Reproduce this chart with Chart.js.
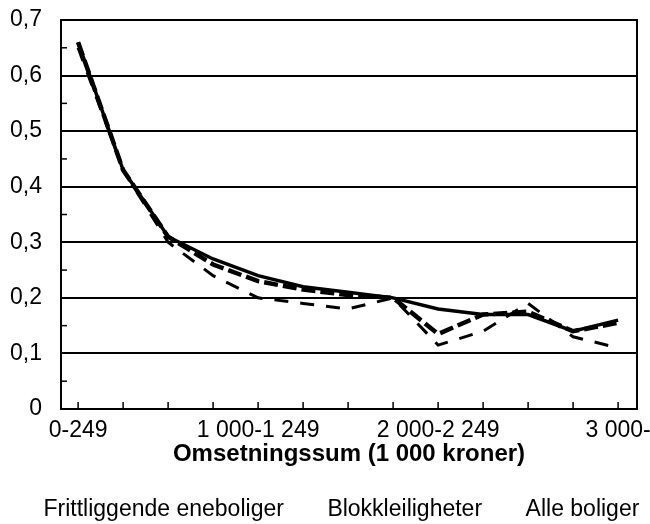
<!DOCTYPE html>
<html>
<head>
<meta charset="utf-8">
<script src="https://cdn.jsdelivr.net/npm/chart.js@4"></script>
<style>
  html, body { margin: 0; padding: 0; background: #fff; }
  #wrap { width: 650px; height: 524px; position: relative; }
</style>
</head>
<body>
<div id="wrap"><canvas id="chart"></canvas></div>
<script>
// categories (omsetningssum i 1 000 kroner)
const categories = ['0-249', '250-499', '500-749', '750-999', '1 000-1 249', '1 250-1 499',
  '1 500-1 749', '1 750-1 999', '2 000-2 249', '2 250-2 499', '2 500-2 749', '2 750-2 999', '3 000-'];
const shownLabels = [0, 4, 8, 12];

// series values
const frittliggende = [0.66, 0.43, 0.31, 0.27, 0.24, 0.22, 0.21, 0.20, 0.18, 0.17, 0.17, 0.14, 0.16];
const blokk = [0.65, 0.43, 0.30, 0.24, 0.20, 0.19, 0.18, 0.20, 0.115, 0.14, 0.19, 0.13, 0.11];
const alle = [0.66, 0.43, 0.31, 0.26, 0.23, 0.215, 0.205, 0.20, 0.135, 0.17, 0.175, 0.14, 0.155];

const yTicks = [0, 0.1, 0.2, 0.3, 0.4, 0.5, 0.6, 0.7];

const FONT = '"Liberation Sans", Arial, sans-serif';

function toPoints(arr) {
  return arr.map((v, i) => ({ x: i, y: v }));
}

// inward tick marks and frame
const frame = {
  id: 'frame',
  afterDraw(chart) {
    const { ctx, chartArea: a, scales } = chart;
    ctx.save();
    ctx.strokeStyle = '#000';
    ctx.lineWidth = 2;
    ctx.strokeRect(a.left, a.top, a.right - a.left, a.bottom - a.top);
    ctx.lineWidth = 1.5;
    categories.forEach((c, i) => {
      const x = scales.x.getPixelForValue(i);
      ctx.beginPath();
      ctx.moveTo(x, a.bottom);
      ctx.lineTo(x, a.bottom - 7);
      ctx.stroke();
    });
    for (let k = 0; k < yTicks.length - 1; k++) {
      const y = scales.y.getPixelForValue((yTicks[k] + yTicks[k + 1]) / 2);
      ctx.beginPath();
      ctx.moveTo(a.left, y);
      ctx.lineTo(a.left + 6, y);
      ctx.stroke();
    }
    ctx.restore();
  }
};

new Chart(document.getElementById('chart'), {
  type: 'line',
  data: {
    datasets: [
      {
        label: 'Frittliggende eneboliger',
        data: toPoints(frittliggende),
        borderColor: '#000',
        borderWidth: 3.5,
        pointRadius: 0,
        tension: 0
      },
      {
        label: 'Blokkleiligheter',
        data: toPoints(blokk),
        borderColor: '#000',
        borderWidth: 3,
        borderDash: [14, 12],
        pointRadius: 0,
        tension: 0
      },
      {
        label: 'Alle boliger',
        data: toPoints(alle),
        borderColor: '#000',
        borderWidth: 4.5,
        borderDash: [14, 5],
        pointRadius: 0,
        tension: 0
      }
    ]
  },
  options: {
    responsive: true,
    maintainAspectRatio: false,
    animation: false,
    layout: { padding: { top: 20, right: 0, left: 0, bottom: -7 } },
    scales: {
      x: {
        type: 'linear',
        min: -0.38,
        max: 12.42,
        afterFit: s => { s.height = 89; s.paddingLeft = 0; s.paddingRight = 13; },
        grid: { display: false, drawTicks: false },
        border: { display: false },
        ticks: {
          stepSize: 1,
          includeBounds: false,
          autoSkip: false,
          maxRotation: 0,
          padding: 8,
          color: '#000',
          font: { family: FONT, size: 23 },
          callback: v => shownLabels.includes(v) ? categories[v] : ''
        },
        title: {
          display: true,
          text: 'Omsetningssum (1 000 kroner)',
          color: '#000',
          font: { family: FONT, size: 24, weight: 'bold' },
          padding: { top: 0, bottom: 29 }
        }
      },
      y: {
        min: 0,
        max: 0.7,
        afterFit: s => { s.width = 61; s.paddingTop = 0; s.paddingBottom = 0; },
        grid: { color: '#000', lineWidth: 2, drawTicks: false },
        border: { display: false },
        ticks: {
          stepSize: 0.1,
          padding: 19,
          color: '#000',
          font: { family: FONT, size: 23 },
          callback: v => v === 0 ? '0' : v.toFixed(1).replace('.', ',')
        }
      }
    },
    plugins: {
      legend: {
        position: 'bottom',
        align: 'start',
        labels: {
          boxWidth: 32,
          boxHeight: 0,
          padding: 0,
          color: '#000',
          font: { family: FONT, size: 23 },
          generateLabels: chart => Chart.defaults.plugins.legend.labels.generateLabels(chart)
            .map(item => Object.assign(item, {
              fillStyle: 'rgba(0,0,0,0)',
              strokeStyle: 'rgba(0,0,0,0)',
              lineWidth: 0
            }))
        }
      },
      tooltip: { enabled: false }
    }
  },
  plugins: [frame]
});
</script>
</body>
</html>
